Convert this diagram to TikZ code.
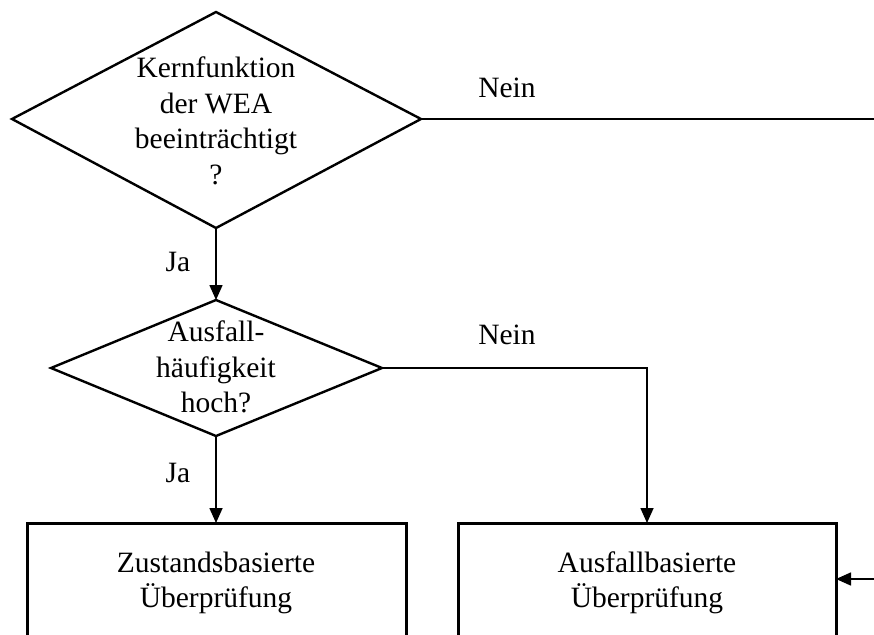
\documentclass[tikz,border=0pt]{standalone}
\usepackage{fontspec}
\setmainfont{Liberation Serif}
\usetikzlibrary{arrows.meta}
\begin{document}
\begin{tikzpicture}[x=1pt,y=-1pt,
  shapeline/.style={line width=2.4pt,line join=miter},
  boxline/.style={line width=3pt},
  conn/.style={line width=1.6pt},
  arr/.style={conn,-{Triangle[length=15pt,width=13pt]}},
  txt/.style={align=center,font=\fontsize{29.5}{35.5}\selectfont,inner sep=0pt},
  lbl/.style={font=\fontsize{29.5}{35.5}\selectfont,inner sep=0pt}]
\useasboundingbox (0,0) rectangle (874,634);
\clip (0,0) rectangle (874,634);
% diamond 1
\coordinate (d1t) at (216,12);
\coordinate (d1l) at (12,119);
\coordinate (d1r) at (421,119);
\coordinate (d1b) at (216,228);
\draw[shapeline] (d1t) -- (d1r) -- (d1b) -- (d1l) -- cycle;
\node[txt] (d1) at (216,121) {Kernfunktion\\der WEA\\beeinträchtigt\\?};
% diamond 2
\coordinate (d2t) at (216,300);
\coordinate (d2l) at (51,368);
\coordinate (d2r) at (382,368);
\coordinate (d2b) at (216,436);
\draw[shapeline] (d2t) -- (d2r) -- (d2b) -- (d2l) -- cycle;
\node[txt] (d2) at (216,367) {Ausfall-\\häufigkeit\\hoch?};
% boxes
\draw[boxline] (27,700) -- (27,523) -- (406,523) -- (406,700);
\coordinate (b1t) at (216,523);
\node[txt] (b1) at (216,583) {Zustandsbasierte\\Überprüfung};
\draw[boxline] (458,700) -- (458,523) -- (836,523) -- (836,700);
\coordinate (b2t) at (647,523);
\coordinate (b2r) at (836,579);
\node[txt] (b2) at (647,583) {Ausfallbasierte\\Überprüfung};
% connectors
\coordinate (e1) at (880,119);
\draw[conn] (d1r) -- (e1);
\draw[arr] (d1b) -- (d2t);
\draw[arr] (d2b) -- (b1t);
\coordinate (c2) at (647,368);
\draw[arr] (d2r) -- (c2) -- (b2t);
\coordinate (e2) at (880,579);
\draw[arr] (e2) -- (b2r);
% labels
\node[lbl] (n1) at (507,88) {Nein};
\node[lbl] (n2) at (507,335) {Nein};
\node[lbl] (j1) at (178,262) {Ja};
\node[lbl] (j2) at (178,473) {Ja};
\end{tikzpicture}
\end{document}
